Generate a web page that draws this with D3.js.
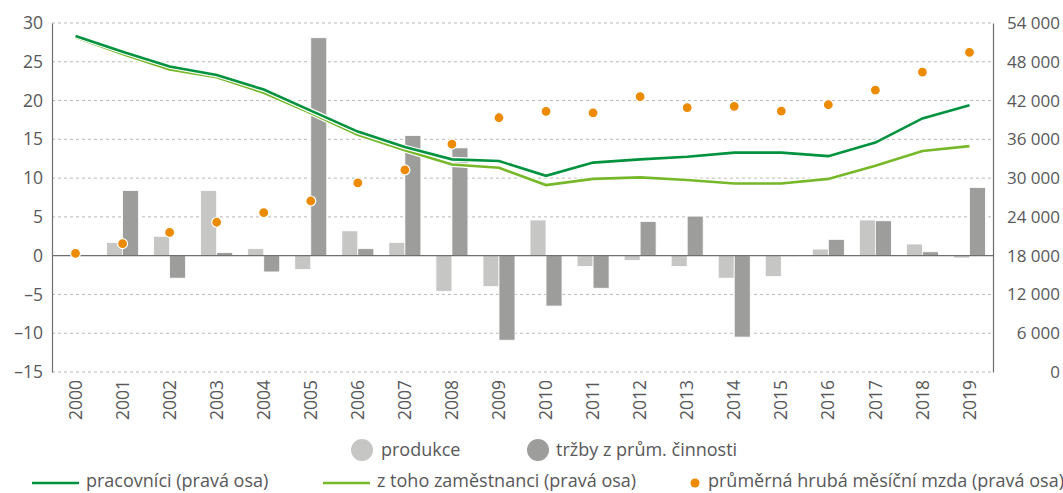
<!DOCTYPE html>
<html>
<head>
<meta charset="utf-8">
<script src="https://cdn.jsdelivr.net/npm/d3@7"></script>
<style>
  body { margin: 0; background: #fff; }
  svg { display: block; font-family: "Open Sans", sans-serif; }
</style>
</head>
<body>
<svg id="chart" width="1063" height="493"></svg>
<script>
// data
const years = ["2000","2001","2002","2003","2004","2005","2006","2007","2008","2009",
  "2010","2011","2012","2013","2014","2015","2016","2017","2018","2019"];
const produkce = [0.1, 1.7, 2.5, 8.4, 0.9, -1.8, 3.2, 1.7, -4.6, -4.0,
  4.6, -1.4, -0.6, -1.4, -2.9, -2.7, 0.85, 4.6, 1.5, -0.3];
const trzby = [0, 8.4, -2.9, 0.4, -2.1, 28.1, 0.9, 15.5, 13.9, -10.9,
  -6.5, -4.2, 4.4, 5.1, -10.5, -0.1, 2.1, 4.5, 0.5, 8.8];
const pracovnici = [52000, 49560, 47280, 45960, 43700, 40440, 37200, 34800, 32900, 32640,
  30360, 32400, 32900, 33300, 33950, 33950, 33400, 35500, 39240, 41270];
const zamestnanci = [51800, 49200, 46800, 45600, 43200, 40080, 36720, 34320, 32100, 31600,
  28920, 29880, 30120, 29700, 29160, 29160, 29880, 31920, 34200, 34950];
const mzda = [18370, 19860, 21600, 23170, 24650, 26460, 29250, 31260, 35270, 39340,
  40330, 40100, 42600, 40900, 41100, 40380, 41350, 43620, 46400, 49450];
const leftTicks = [-15, -10, -5, 0, 5, 10, 15, 20, 25, 30];
const rightTicks = [0, 6000, 12000, 18000, 24000, 30000, 36000, 42000, 48000, 54000];

const colors = {
  produkce: "#c6c6c5",
  trzby: "#9d9d9c",
  pracovnici: "#00923f",
  zamestnanci: "#76b82a",
  mzda: "#ec8a00",
  text: "#58585a"
};

const svg = d3.select("#chart");
const margin = { top: 23, left: 52, right: 70, bottom: 121 };
const width = 1063 - margin.left - margin.right;
const height = 493 - margin.top - margin.bottom;

const x = d3.scaleBand().domain(years).range([0, width]);
const yL = d3.scaleLinear().domain([-15, 30]).range([height, 0]);
const yR = d3.scaleLinear().domain([0, 54000]).range([height, 0]);

const g = svg.append("g").attr("transform", `translate(${margin.left},${margin.top})`);

// grid lines
g.append("g")
  .selectAll("line")
  .data(leftTicks.filter(d => d !== 0))
  .join("line")
  .attr("x1", 0)
  .attr("x2", width)
  .attr("y1", d => yL(d))
  .attr("y2", d => yL(d))
  .attr("stroke", "#b9b9b9")
  .attr("stroke-dasharray", "3,3");

// bars
const barW = 16;
g.append("g")
  .selectAll("rect")
  .data(produkce)
  .join("rect")
  .attr("x", (d, i) => x(years[i]) + x.bandwidth() / 2 - barW)
  .attr("width", barW)
  .attr("y", d => yL(Math.max(0, d)))
  .attr("height", d => Math.abs(yL(d) - yL(0)))
  .attr("fill", colors.produkce)
  .attr("stroke", "#fff")
  .attr("stroke-width", 0.8);

g.append("g")
  .selectAll("rect")
  .data(trzby)
  .join("rect")
  .attr("x", (d, i) => x(years[i]) + x.bandwidth() / 2)
  .attr("width", barW)
  .attr("y", d => yL(Math.max(0, d)))
  .attr("height", d => Math.abs(yL(d) - yL(0)))
  .attr("fill", colors.trzby)
  .attr("stroke", "#fff")
  .attr("stroke-width", 0.8);

// zero line
g.append("line")
  .attr("x1", 0)
  .attr("x2", width)
  .attr("y1", yL(0))
  .attr("y2", yL(0))
  .attr("stroke", "#6f6f6e")
  .attr("stroke-width", 1.2);

// lines
const line = d3.line()
  .x((d, i) => x(years[i]) + x.bandwidth() / 2)
  .y(d => yR(d));

[[zamestnanci, colors.zamestnanci], [pracovnici, colors.pracovnici]].forEach(([data, color]) => {
  g.append("path")
    .datum(data)
    .attr("d", line)
    .attr("fill", "none")
    .attr("stroke", "#fff")
    .attr("stroke-width", 5);
  g.append("path")
    .datum(data)
    .attr("d", line)
    .attr("fill", "none")
    .attr("stroke", color)
    .attr("stroke-width", 2.6);
});

// dots
g.append("g")
  .selectAll("circle")
  .data(mzda)
  .join("circle")
  .attr("cx", (d, i) => x(years[i]) + x.bandwidth() / 2)
  .attr("cy", d => yR(d))
  .attr("r", 5)
  .attr("fill", colors.mzda)
  .attr("stroke", "#fff")
  .attr("stroke-width", 1.2);

// axes
const fmtLeft = d => (d < 0 ? "\u2013" + Math.abs(d) : String(d));
const fmtRight = d => d3.format(",")(d).replace(/,/g, " ");

const axL = g.append("g")
  .call(d3.axisLeft(yL).tickValues(leftTicks).tickSize(0).tickPadding(9).tickFormat(fmtLeft));
axL.select(".domain").attr("stroke", "#6f6f6e").attr("stroke-width", 1.2);
axL.selectAll("text")
  .attr("font-size", 17.5)
  .attr("fill", colors.text)
  .attr("font-family", "Open Sans, sans-serif");

const axR = g.append("g")
  .attr("transform", `translate(${width},0)`)
  .call(d3.axisRight(yR).tickValues(rightTicks).tickSize(0).tickPadding(0).tickFormat(fmtRight));
axR.select(".domain").attr("stroke", "#6f6f6e").attr("stroke-width", 1.2);
axR.selectAll("text")
  .attr("font-size", 17)
  .attr("fill", colors.text)
  .attr("font-family", "Open Sans, sans-serif")
  .attr("text-anchor", "end")
  .attr("x", 67);

const axX = g.append("g")
  .attr("transform", `translate(0,${height})`)
  .call(d3.axisBottom(x).tickSize(0).tickPadding(0));
axX.select(".domain").remove();
axX.selectAll("text")
  .attr("font-size", 17.5)
  .attr("fill", colors.text)
  .attr("font-family", "Open Sans, sans-serif")
  .attr("transform", "rotate(-90)")
  .attr("text-anchor", "end")
  .attr("x", -8)
  .attr("y", 0)
  .attr("dy", "0.35em");

// legend
const legend = svg.append("g")
  .attr("font-size", 18)
  .attr("fill", colors.text);

const leg1 = [
  { label: "produkce", color: colors.produkce, cx: 362, tx: 381 },
  { label: "tržby z prům. činnosti", color: colors.trzby, cx: 538, tx: 556 }
];
leg1.forEach(d => {
  legend.append("circle").attr("cx", d.cx).attr("cy", 450).attr("r", 11).attr("fill", d.color);
  legend.append("text").attr("x", d.tx).attr("y", 450).attr("dy", "0.35em").text(d.label);
});

const row2 = 481;
const leg2 = [
  { label: "pracovníci (pravá osa)", color: colors.pracovnici, x0: 32, tx: 86 },
  { label: "z toho zaměstnanci (pravá osa)", color: colors.zamestnanci, x0: 323, tx: 377 }
];
leg2.forEach(d => {
  legend.append("line")
    .attr("x1", d.x0).attr("x2", d.x0 + 47)
    .attr("y1", row2 + 2).attr("y2", row2 + 2)
    .attr("stroke", d.color).attr("stroke-width", 2.6);
  legend.append("text").attr("x", d.tx).attr("y", row2).attr("dy", "0.35em").text(d.label);
});
legend.append("circle").attr("cx", 695).attr("cy", row2 + 2).attr("r", 4.5).attr("fill", colors.mzda);
legend.append("text").attr("x", 708).attr("y", row2).attr("dy", "0.35em")
  .text("průměrná hrubá měsíční mzda (pravá osa)");
</script>
</body>
</html>
